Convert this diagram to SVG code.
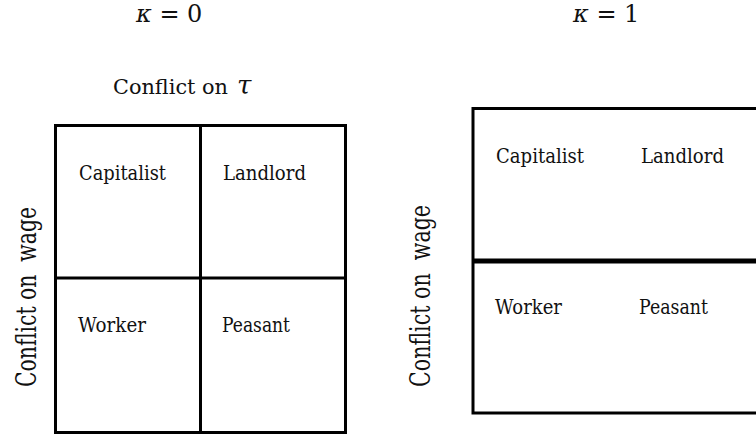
<svg xmlns="http://www.w3.org/2000/svg" width="756" height="434" viewBox="0 0 756 434">
<style>
.s{font-family:"DejaVu Serif","Liberation Serif",serif;fill:#111;}
.cell{font-size:21px;}
.ttl{font-size:24px;}
.ax{font-size:27px;}
.box{fill:none;stroke:#000;stroke-width:3;}
.div{stroke:#000;stroke-width:3;}
</style>
<rect width="756" height="434" fill="#fff"/>
<g id="title-k0"><text class="s ttl" x="136" y="22"><tspan font-style="italic">κ</tspan> = 0</text></g>
<g id="title-k1"><text class="s ttl" x="573" y="22"><tspan font-style="italic">κ</tspan> = 1</text></g>
<g id="label-tau"><text class="s" x="113" y="94" font-size="21"><tspan textLength="115" lengthAdjust="spacingAndGlyphs">Conflict on</tspan><tspan x="237" font-style="italic" font-size="26">τ</tspan></text></g>
<g id="left-grid">
<rect class="box" x="55.5" y="125.5" width="290" height="307"/>
<line class="div" x1="200.5" y1="125.5" x2="200.5" y2="432.5"/>
<line class="div" x1="55.5" y1="278" x2="345.5" y2="278"/>
</g>
<g id="left-capitalist"><text class="s cell" x="79" y="180" textLength="87" lengthAdjust="spacingAndGlyphs">Capitalist</text></g>
<g id="left-landlord"><text class="s cell" x="223" y="180" textLength="83" lengthAdjust="spacingAndGlyphs">Landlord</text></g>
<g id="left-worker"><text class="s cell" x="78" y="332" textLength="68" lengthAdjust="spacingAndGlyphs">Worker</text></g>
<g id="left-peasant"><text class="s cell" x="222" y="332" textLength="68" lengthAdjust="spacingAndGlyphs">Peasant</text></g>
<g id="left-axis"><text class="s ax" transform="translate(36,387) rotate(-90)" textLength="180" lengthAdjust="spacingAndGlyphs" xml:space="preserve">Conflict on  wage</text></g>
<g id="right-grid">
<rect class="box" x="473" y="108.5" width="300" height="304.5"/>
<line stroke="#000" stroke-width="5" x1="473" y1="261" x2="760" y2="261"/>
</g>
<g id="right-capitalist"><text class="s cell" x="496" y="163" textLength="88" lengthAdjust="spacingAndGlyphs">Capitalist</text></g>
<g id="right-landlord"><text class="s cell" x="641" y="163" textLength="83" lengthAdjust="spacingAndGlyphs">Landlord</text></g>
<g id="right-worker"><text class="s cell" x="495" y="314" textLength="67" lengthAdjust="spacingAndGlyphs">Worker</text></g>
<g id="right-peasant"><text class="s cell" x="639" y="314" textLength="69" lengthAdjust="spacingAndGlyphs">Peasant</text></g>
<g id="right-axis"><text class="s ax" transform="translate(430,387) rotate(-90)" textLength="182" lengthAdjust="spacingAndGlyphs" xml:space="preserve">Conflict on  wage</text></g>
</svg>
